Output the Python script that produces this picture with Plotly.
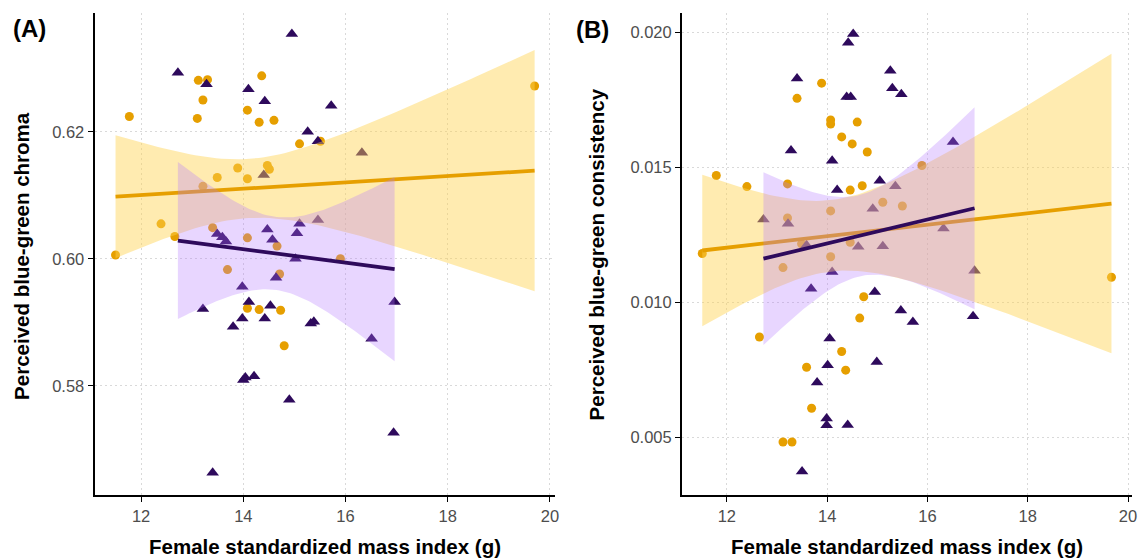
import numpy as np
import plotly.graph_objects as go

# ---------------- data: panel A (chroma) ----------------
a_orange_x = [11.50, 11.77, 12.39, 12.66, 13.10, 13.12, 13.21, 13.21, 13.30, 13.40, 13.49,
              13.69, 13.89, 14.08, 14.08, 14.08, 14.08, 14.31, 14.31, 14.36, 14.47, 14.51,
              14.60, 14.66, 14.71, 14.73, 14.80, 15.10, 15.51, 15.90, 19.70]
a_orange_y = [0.6006, 0.6224, 0.6055, 0.6035, 0.6221, 0.6281, 0.6250, 0.6114, 0.6282, 0.6049, 0.6128,
              0.5983, 0.6143, 0.6234, 0.6126, 0.6033, 0.5922, 0.6215, 0.5920, 0.6288, 0.6147, 0.6141,
              0.6218, 0.6020, 0.5976, 0.5919, 0.5863, 0.6181, 0.6185, 0.6000, 0.6272]
a_purple_x = [12.72, 13.21, 13.28, 13.40, 13.49, 13.59, 13.66, 13.80, 13.98, 13.98, 14.00, 14.04,
              14.10, 14.11, 14.21, 14.40, 14.42, 14.42, 14.47, 14.53, 14.57, 14.64, 14.90, 14.95,
              15.02, 15.05, 15.10, 15.26, 15.32, 15.38, 15.46, 15.46, 15.72, 16.32, 16.51, 16.94, 16.96]
a_purple_y = [0.6293, 0.5921, 0.6275, 0.5663, 0.6039, 0.6034, 0.6027, 0.5893, 0.5956, 0.5906, 0.5809, 0.5813,
              0.6267, 0.5932, 0.5815, 0.6132, 0.6248, 0.5906, 0.6046, 0.5926, 0.6030, 0.5970, 0.5778, 0.6354,
              0.6000, 0.6040, 0.6055, 0.6200, 0.5898, 0.5901, 0.6185, 0.6061, 0.6241, 0.6167, 0.5874, 0.5726, 0.5932]

# ---------------- data: panel B (consistency) ----------------
b_orange_x = [11.51, 11.79, 12.40, 12.65, 13.12, 13.12, 13.21, 13.21, 13.30, 13.40, 13.49, 13.59,
              13.69, 13.89, 14.07, 14.07, 14.07, 14.07, 14.29, 14.29, 14.37, 14.46, 14.46, 14.50,
              14.60, 14.65, 14.70, 14.73, 14.80, 15.11, 15.50, 15.89, 19.67]
b_orange_y = [0.01180, 0.01469, 0.01428, 0.00871, 0.01128, 0.00482, 0.01438, 0.01312, 0.00482, 0.01755, 0.01216, 0.00759,
              0.00607, 0.01811, 0.01675, 0.01660, 0.01338, 0.01168, 0.01612, 0.00817, 0.00748, 0.01415, 0.01222, 0.01586,
              0.01667, 0.00941, 0.01431, 0.01020, 0.01556, 0.01370, 0.01356, 0.01506, 0.01092]
b_purple_x = [12.73, 13.22, 13.28, 13.40, 13.50, 13.59, 13.68, 13.80, 13.99, 13.99, 14.01, 14.05,
              14.10, 14.10, 14.20, 14.39, 14.41, 14.42, 14.47, 14.52, 14.62, 14.91, 14.95, 14.99,
              15.05, 15.11, 15.26, 15.30, 15.36, 15.47, 15.48, 15.71, 16.32, 16.51, 16.91, 16.94]
b_purple_y = [0.01306, 0.01290, 0.01562, 0.01828, 0.00373, 0.01211, 0.01050, 0.00702, 0.00569, 0.00544, 0.00766, 0.00865,
              0.01524, 0.01112, 0.01415, 0.01760, 0.00545, 0.01961, 0.01760, 0.01993, 0.01205, 0.01346, 0.01038, 0.00778,
              0.01450, 0.01207, 0.01857, 0.01792, 0.01429, 0.00969, 0.01770, 0.00926, 0.01273, 0.01593, 0.00948, 0.01116]

x_ticks = [12, 14, 16, 18, 20]
a_y_ticks = [0.58, 0.60, 0.62]
b_y_ticks = [0.005, 0.010, 0.015, 0.020]

ORANGE = "#E69F00"
PURPLE = "#2E0A5C"
FILL_ORANGE = "rgba(255,210,80,0.45)"
FILL_PURPLE = "rgba(180,120,255,0.30)"
FONT = "Liberation Sans, Arial, sans-serif"


def t975(df):
    z = 1.959964
    return z + (z**3 + z) / (4 * df) + (5 * z**5 + 16 * z**3 + 3 * z) / (96 * df**2)


def lm_band(x, y, n_grid=80):
    x = np.asarray(x, float)
    y = np.asarray(y, float)
    n = len(x)
    xb, yb = x.mean(), y.mean()
    sxx = ((x - xb) ** 2).sum()
    b = ((x - xb) * (y - yb)).sum() / sxx
    a = yb - b * xb
    s = np.sqrt(((y - (a + b * x)) ** 2).sum() / (n - 2))
    g = np.linspace(x.min(), x.max(), n_grid)
    fit = a + b * g
    se = s * np.sqrt(1.0 / n + (g - xb) ** 2 / sxx)
    t = t975(n - 2)
    return g, fit, fit - t * se, fit + t * se


fig = go.Figure()


def add_panel(xs_o, ys_o, xs_p, ys_p, xa, ya):
    fig.add_trace(go.Scatter(x=xs_o, y=ys_o, mode="markers", xaxis=xa, yaxis=ya,
                             marker=dict(symbol="circle", size=9, color=ORANGE, line=dict(width=0)),
                             showlegend=False, hoverinfo="skip"))
    fig.add_trace(go.Scatter(x=xs_p, y=ys_p, mode="markers", xaxis=xa, yaxis=ya,
                             marker=dict(symbol="triangle-up", size=11, color=PURPLE, line=dict(width=0)),
                             showlegend=False, hoverinfo="skip"))
    for xs, ys, col, fillc in [(xs_o, ys_o, ORANGE, FILL_ORANGE), (xs_p, ys_p, PURPLE, FILL_PURPLE)]:
        g, fit, lo, hi = lm_band(xs, ys)
        fig.add_trace(go.Scatter(x=np.concatenate([g, g[::-1]]), y=np.concatenate([hi, lo[::-1]]),
                                 mode="lines", fill="toself", fillcolor=fillc, line=dict(width=0),
                                 xaxis=xa, yaxis=ya, showlegend=False, hoverinfo="skip"))
        fig.add_trace(go.Scatter(x=g, y=fit, mode="lines", line=dict(color=col, width=3.8),
                                 xaxis=xa, yaxis=ya, showlegend=False, hoverinfo="skip"))


add_panel(a_orange_x, a_orange_y, a_purple_x, a_purple_y, "x", "y")
add_panel(b_orange_x, b_orange_y, b_purple_x, b_purple_y, "x2", "y2")

ydom = [1 - 495 / 558, 1 - 13 / 558]
grid = dict(showgrid=True, gridcolor="#D9D9D9", griddash="2px,3px", gridwidth=1)
common_x = dict(tickvals=x_ticks, ticks="outside", ticklen=5, tickwidth=1.3, tickcolor="black",
                showline=True, linecolor="black", linewidth=2, zeroline=False,
                tickfont=dict(family=FONT, size=16.5, color="#4D4D4D"), **grid)
common_y = dict(ticks="outside", ticklen=5, tickwidth=1.3, tickcolor="black",
                showline=True, linecolor="black", linewidth=2, zeroline=False,
                tickfont=dict(family=FONT, size=16.5, color="#4D4D4D"), **grid)

fig.update_layout(
    width=1144, height=558, margin=dict(l=0, r=0, t=0, b=0),
    paper_bgcolor="white", plot_bgcolor="white", showlegend=False,
    xaxis=dict(domain=[95 / 1144, 557 / 1144], range=[11.09, 20.09], anchor="y", **common_x),
    yaxis=dict(domain=ydom, range=[0.5628, 0.6387], anchor="x", tickvals=a_y_ticks,
               tickformat=".2f", **common_y),
    xaxis2=dict(domain=[685 / 1144, 1137 / 1144], range=[11.106, 20.08], anchor="y2", **common_x),
    yaxis2=dict(domain=ydom, range=[0.002856, 0.02071], anchor="x2", tickvals=b_y_ticks,
                tickformat=".3f", **common_y),
)

title_font = dict(family=FONT, size=20.5, color="black")
label_font = dict(family=FONT, size=24, color="black")
ann = [
    dict(text="<b>(A)</b>", x=30 / 1144, y=1 - 29 / 558, font=label_font),
    dict(text="<b>(B)</b>", x=595 / 1144, y=1 - 30 / 558, font=label_font),
    dict(text="<b>Female standardized mass index (g)</b>", x=326 / 1144, y=1 - 546 / 558, font=title_font),
    dict(text="<b>Female standardized mass index (g)</b>", x=911 / 1144, y=1 - 546 / 558, font=title_font),
    dict(text="<b>Perceived blue-green chroma</b>", x=21 / 1144, y=1 - 256 / 558, textangle=-90, font=title_font),
    dict(text="<b>Perceived blue-green consistency</b>", x=600 / 1144, y=1 - 254 / 558, textangle=-90, font=title_font),
]
for a in ann:
    a.update(xref="paper", yref="paper", showarrow=False, xanchor="center", yanchor="middle")
fig.update_layout(annotations=ann)

fig.write_html("out.html", config={"displayModeBar": False},
               post_script="document.body.style.margin='0px';document.body.style.overflow='hidden';")
